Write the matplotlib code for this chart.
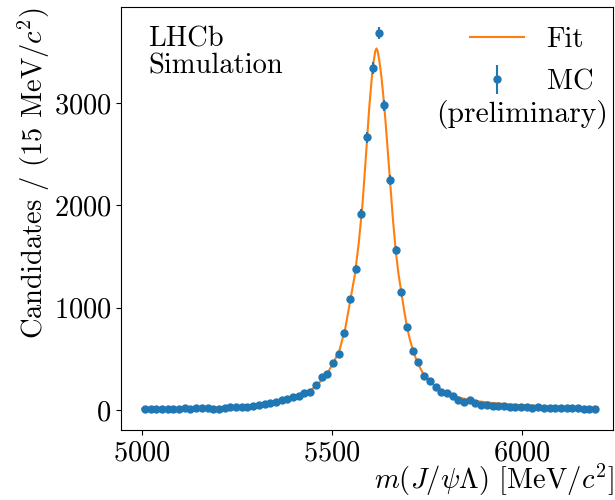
import numpy as np
import matplotlib
matplotlib.use("Agg")
import matplotlib.pyplot as plt

plt.rcParams['font.family'] = 'serif'
plt.rcParams['font.serif'] = ['cmr10']
plt.rcParams['mathtext.fontset'] = 'cm'
plt.rcParams['axes.unicode_minus'] = False
plt.rcParams['axes.formatter.use_mathtext'] = True

# MC histogram, 15 MeV bins from 5000 to 6200
bin_centers = np.arange(5007.5, 6200, 15.0)
mc_counts = [10, 12, 11, 13, 14, 12, 15, 16, 14, 17, 16, 18, 15, 6, 24, 25,
             27, 28, 33, 40, 48, 58, 65, 80, 95, 105, 124, 140, 163, 179,
             244, 326, 355, 456, 547, 752, 1084, 1383, 1918, 2666,
             3346, 3688, 2978, 2248, 1564, 1152, 811, 580, 466, 335,
             286, 222, 173, 169, 137, 98, 78, 98, 65, 52,
             50, 42, 40, 35, 33, 30, 32, 28, 20, 26,
             24, 22, 20, 18, 20, 16, 24, 14, 15, 10]
mc_err = np.sqrt(mc_counts)

# fit curve
fit_mass = [5000, 5050, 5100, 5150, 5200, 5250, 5300, 5340, 5370, 5400, 5420,
            5440, 5460, 5475, 5490, 5505, 5520, 5535, 5547.5, 5560, 5570, 5580,
            5590, 5598, 5605, 5610, 5614, 5617, 5620, 5624, 5630, 5637.5, 5645,
            5652.5, 5660, 5667.5, 5675, 5682.5, 5690, 5697.5, 5705, 5712.5,
            5725, 5740, 5760, 5780, 5800, 5830, 5870, 5920, 5980, 6050, 6120, 6200]
fit_vals = [12, 14, 17, 21, 27, 35, 48, 65, 85, 115, 140,
            180, 245, 300, 375, 470, 590, 800, 1060, 1320, 1620, 2000,
            2520, 2960, 3260, 3420, 3510, 3535, 3510, 3430, 3260, 2978, 2620,
            2248, 1880, 1564, 1330, 1150, 970, 811, 690, 590,
            460, 355, 270, 210, 165, 125, 92, 70, 52, 40, 30, 24]

fs = 20.5

fig = plt.figure(figsize=(6.15, 5.0), dpi=100)
ax = fig.add_axes([0.197, 0.14, 0.8, 0.846])

ax.plot(fit_mass, fit_vals, color='#ff7f0e', lw=1.5, label='Fit')
ax.errorbar(bin_centers, mc_counts, yerr=mc_err, fmt='o', ms=5,
            color='#1f77b4', label='MC')

ax.set_xlim(4945, 6240)
ax.set_ylim(-195, 3940)
ax.set_xticks([5000, 5500, 6000])
ax.set_yticks([0, 1000, 2000, 3000])
ax.tick_params(labelsize=fs)

ax.set_xlabel(r'$m(J/\psi\Lambda)$ [MeV/$c^2$]', fontsize=fs, loc='right',
              labelpad=-2.5)
ax.set_ylabel(r'Candidates / (15 MeV/$c^2$)', fontsize=fs, loc='top',
              labelpad=1)

ax.text(0.055, 0.955, 'LHCb\nSimulation', transform=ax.transAxes,
        fontsize=fs, va='top', ha='left', linespacing=1.05)

ax.legend(loc='upper right', frameon=False, fontsize=fs,
          labelspacing=0.55, handlelength=1.9, borderaxespad=0.3,
          bbox_to_anchor=(1.0, 1.0))
ax.text(0.99, 0.745, '(preliminary)', transform=ax.transAxes,
        fontsize=fs + 0.8, ha='right', va='center')

fig.savefig('out.png', dpi=100)
